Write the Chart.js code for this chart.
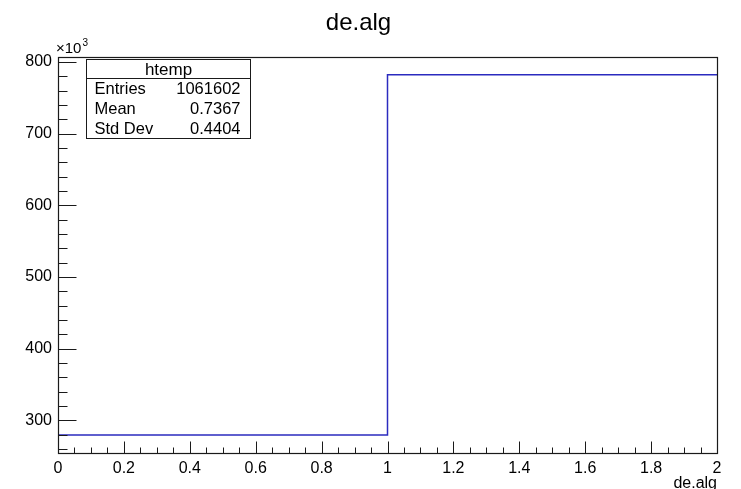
<!DOCTYPE html>
<html>
<head>
<meta charset="utf-8">
<script src="https://cdn.jsdelivr.net/npm/chart.js@4.4.0/dist/chart.umd.min.js"></script>
<style>
  html, body { margin: 0; padding: 0; background: #fff; }
  #wrap { width: 741px; height: 489px; }
</style>
</head>
<body>
<div id="wrap"><canvas id="chart" width="741" height="489"></canvas></div>
<script>
// htemp : de.alg, 2 bins between 0 and 2
const binEdges = [0, 1, 2];
const binCounts = [279520, 782082];
const xTicks = [0, 0.2, 0.4, 0.6, 0.8, 1, 1.2, 1.4, 1.6, 1.8, 2];
const yTicks = [300000, 400000, 500000, 600000, 700000, 800000];
const statsNames = ['Entries', 'Mean', 'Std Dev'];
const statsValues = ['1061602', '0.7367', '0.4404'];
const yMin = 254400;
const yMax = 807200;

const FONT = '"Liberation Sans", Arial, Helvetica, sans-serif';

// points for the stepped outline: each edge takes the count of the bin it opens
const histPoints = binEdges.map((x, i) => ({ x, y: binCounts[Math.min(i, binCounts.length - 1)] }));

// ROOT style: ticks inside the frame, frame on four sides, stats box, x10^3 label
const rootFrame = {
    id: 'rootFrame',
    afterDatasetsDraw(chart) {
        const { ctx, chartArea: a, scales: { x, y } } = chart;
        const left = Math.round(a.left) + 0.5;
        const bottom = Math.round(a.bottom) + 0.5;
        ctx.save();
        ctx.strokeStyle = '#1a1a1a';
        ctx.lineWidth = 1;
        ctx.beginPath();
        // y ticks: minor every 20k, major every 100k
        for (let v = 260000; v <= yMax; v += 20000) {
            const py = Math.round(y.getPixelForValue(v)) + 0.5;
            const len = v % 100000 === 0 ? 18 : 9;
            ctx.moveTo(left, py);
            ctx.lineTo(left + len, py);
        }
        // x ticks: minor every 0.05, major every 0.2
        for (let i = 0; i <= 40; i++) {
            const px = Math.round(x.getPixelForValue(i * 0.05)) + 0.5;
            const len = i % 4 === 0 ? 12 : 6;
            ctx.moveTo(px, bottom);
            ctx.lineTo(px, bottom - len);
        }
        ctx.stroke();
        ctx.lineWidth = 1.2;
        ctx.strokeRect(left, Math.round(a.top) + 0.5, Math.round(a.right) - Math.round(a.left), Math.round(a.bottom) - Math.round(a.top));

        // x10^3 exponent label
        ctx.fillStyle = '#000';
        ctx.textBaseline = 'alphabetic';
        ctx.textAlign = 'left';
        ctx.font = '15px ' + FONT;
        ctx.fillText('\u00d710', a.left - 2, a.top - 4);
        const w = ctx.measureText('\u00d710').width;
        ctx.font = '10px ' + FONT;
        ctx.fillText('3', a.left - 2 + w + 1, a.top - 11);

        // stats box
        const bx = Math.round(a.left) + 28.5, by = Math.round(a.top) + 2.5;
        const bw = 164, bh = 79, head = 19, row = 20;
        ctx.fillStyle = '#fff';
        ctx.fillRect(bx, by, bw, bh);
        ctx.lineWidth = 1;
        ctx.strokeRect(bx, by, bw, bh);
        ctx.beginPath();
        ctx.moveTo(bx, by + head);
        ctx.lineTo(bx + bw, by + head);
        ctx.stroke();
        ctx.fillStyle = '#000';
        ctx.textBaseline = 'middle';
        ctx.textAlign = 'center';
        ctx.font = '17px ' + FONT;
        ctx.fillText('htemp', bx + bw / 2, by + head / 2 + 1);
        ctx.font = '16.5px ' + FONT;
        statsNames.forEach((name, i) => {
            const ty = by + head + row * i + row / 2 + 1;
            ctx.textAlign = 'left';
            ctx.fillText(name, bx + 8, ty);
            ctx.textAlign = 'right';
            ctx.fillText(statsValues[i], bx + bw - 10, ty);
        });
        ctx.restore();
    }
};

new Chart(document.getElementById('chart'), {
    type: 'line',
    data: {
        datasets: [{
            label: 'htemp',
            data: histPoints,
            stepped: true,
            borderColor: '#2b2bbf',
            borderWidth: 1.5,
            pointRadius: 0,
            fill: false
        }]
    },
    options: {
        responsive: false,
        animation: false,
        devicePixelRatio: 1,
        layout: { padding: { right: 24 } },
        plugins: {
            legend: { display: false },
            tooltip: { enabled: false },
            title: {
                display: true,
                text: 'de.alg',
                color: '#000',
                font: { family: FONT, size: 24, weight: 'normal' },
                padding: { top: 9, bottom: 19 }
            }
        },
        scales: {
            x: {
                type: 'linear',
                min: binEdges[0],
                max: binEdges[binEdges.length - 1],
                grid: { display: false, drawTicks: false },
                border: { display: false },
                afterBuildTicks: (scale) => { scale.ticks = xTicks.map(v => ({ value: v })); },
                afterFit: (scale) => { scale.height = 36; },
                ticks: {
                    color: '#000',
                    font: { family: FONT, size: 16 },
                    padding: 6,
                    maxRotation: 0,
                    autoSkip: false,
                    callback: (v) => String(Math.round(v * 10) / 10)
                },
                title: {
                    display: true,
                    text: 'de.alg',
                    align: 'end',
                    color: '#000',
                    font: { family: FONT, size: 16 },
                    padding: { top: 0, bottom: -4 }
                }
            },
            y: {
                type: 'linear',
                min: yMin,
                max: yMax,
                grid: { display: false, drawTicks: false },
                border: { display: false },
                afterBuildTicks: (scale) => { scale.ticks = yTicks.map(v => ({ value: v })); },
                afterFit: (scale) => { scale.width = 58; },
                ticks: {
                    color: '#000',
                    font: { family: FONT, size: 16 },
                    padding: 6,
                    callback: (v) => String(v / 1000)
                }
            }
        }
    },
    plugins: [rootFrame]
});
</script>
</body>
</html>
